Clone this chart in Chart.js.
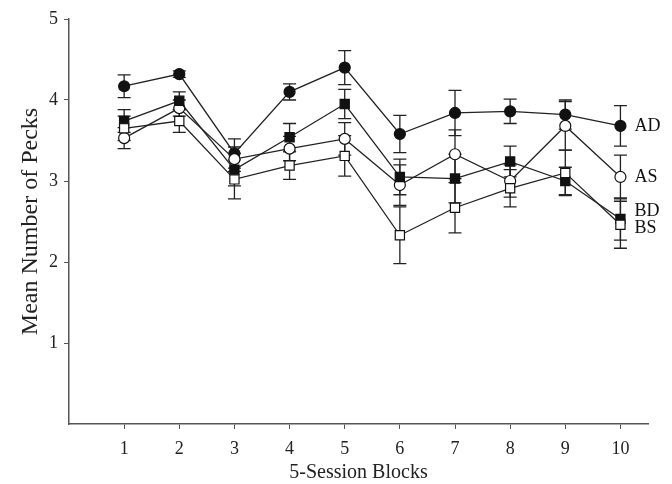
<!DOCTYPE html>
<html>
<head>
<meta charset="utf-8">
<script src="https://cdn.jsdelivr.net/npm/chart.js@4/dist/chart.umd.min.js"></script>
<style>
  html, body { margin: 0; padding: 0; background: #fff; }
  #wrap { width: 672px; height: 484px; }
</style>
</head>
<body>
<div id="wrap"><canvas id="pecks-graph" width="672" height="484"></canvas></div>
<script>
const blocks = [1, 2, 3, 4, 5, 6, 7, 8, 9, 10];
const yTicks = [1, 2, 3, 4, 5];

const adMeans = [4.17, 4.32, 3.34, 4.10, 4.40, 3.58, 3.84, 3.86, 3.82, 3.68];
const asMeans = [3.53, 3.90, 3.27, 3.40, 3.52, 2.95, 3.33, 3.00, 3.68, 3.05];
const bdMeans = [3.74, 3.99, 3.14, 3.54, 3.95, 3.05, 3.03, 3.24, 3.00, 2.53];
const bsMeans = [3.65, 3.74, 3.02, 3.19, 3.31, 2.33, 2.67, 2.91, 3.10, 2.46];

const adErr = [0.14, 0.04, 0.18, 0.10, 0.21, 0.23, 0.28, 0.15, 0.18, 0.25];
const asErr = [0.13, 0.10, 0.15, 0.15, 0.20, 0.25, 0.30, 0.20, 0.30, 0.27];
const bdErr = [0.14, 0.11, 0.20, 0.17, 0.18, 0.22, 0.30, 0.19, 0.17, 0.26];
const bsErr = [0.15, 0.14, 0.24, 0.17, 0.25, 0.35, 0.31, 0.23, 0.28, 0.29];

const seriesNames = ['AD', 'AS', 'BD', 'BS'];

const serif = 'Liberation Serif, DejaVu Serif, serif';
const axisColor = '#555';

function toPoints(means) {
  return blocks.map((b, i) => ({ x: b, y: means[i] }));
}

const errorBars = {
  id: 'errorBars',
  beforeDatasetsDraw(chart) {
    const { ctx, scales: { x, y } } = chart;
    ctx.save();
    ctx.strokeStyle = '#222';
    ctx.lineWidth = 1.3;
    chart.data.datasets.forEach((ds) => {
      ds.data.forEach((p, i) => {
        const e = ds.errors[i];
        const px = x.getPixelForValue(p.x);
        const top = y.getPixelForValue(p.y + e);
        const bot = y.getPixelForValue(p.y - e);
        ctx.beginPath();
        ctx.moveTo(px, top);
        ctx.lineTo(px, bot);
        ctx.moveTo(px - 6.5, top);
        ctx.lineTo(px + 6.5, top);
        ctx.moveTo(px - 6.5, bot);
        ctx.lineTo(px + 6.5, bot);
        ctx.stroke();
      });
    });
    ctx.restore();
  },
};

const endLabels = {
  id: 'endLabels',
  afterDatasetsDraw(chart) {
    const { ctx, scales: { x, y } } = chart;
    const nudge = { AD: 0, AS: 0, BD: -8, BS: 4 };
    ctx.save();
    ctx.fillStyle = '#111';
    ctx.font = '18px ' + serif;
    ctx.textBaseline = 'middle';
    chart.data.datasets.forEach((ds) => {
      const last = ds.data[ds.data.length - 1];
      const px = x.getPixelForValue(last.x) + 14;
      const py = y.getPixelForValue(last.y) + nudge[ds.label];
      ctx.fillText(ds.label, px, py);
    });
    ctx.restore();
  },
};

function makeSet(label, means, errors, style, filled, radius) {
  return {
    label: label,
    data: toPoints(means),
    errors: errors,
    borderColor: '#222',
    borderWidth: 1.3,
    pointStyle: style,
    pointRadius: radius,
    pointHoverRadius: radius,
    pointBorderWidth: 1.2,
    pointBorderColor: '#111',
    pointBackgroundColor: filled ? '#111' : '#fff',
    fill: false,
    tension: 0,
  };
}

const graphCanvas = document.getElementById('pecks-graph');
new Chart(graphCanvas, {
  type: 'line',
  data: {
    datasets: [
      makeSet(seriesNames[3], bsMeans, bsErr, 'rect', false, 6.5),
      makeSet(seriesNames[2], bdMeans, bdErr, 'rect', true, 6.5),
      makeSet(seriesNames[1], asMeans, asErr, 'circle', false, 5.5),
      makeSet(seriesNames[0], adMeans, adErr, 'circle', true, 5.5),
    ],
  },
  options: {
    responsive: false,
    animation: false,
    layout: { padding: { top: 19, right: 24, left: 0, bottom: 0 } },
    plugins: {
      legend: { display: false },
      tooltip: { enabled: false },
    },
    scales: {
      x: {
        type: 'linear',
        min: 0,
        max: 10.5,
        afterBuildTicks: (scale) => {
          scale.ticks = blocks.map((v) => ({ value: v }));
        },
        afterFit: (scale) => {
          scale.height = 60;
        },
        grid: { drawOnChartArea: false, drawTicks: true, tickLength: 5, color: axisColor },
        border: { color: axisColor, width: 1.5 },
        ticks: {
          color: '#222',
          padding: 9,
          font: { family: serif, size: 18 },
        },
        title: {
          display: true,
          text: '5-Session Blocks',
          color: '#222',
          padding: { top: 0, bottom: -1 },
          font: { family: serif, size: 20 },
        },
      },
      y: {
        type: 'linear',
        min: 0,
        max: 5,
        afterBuildTicks: (scale) => {
          scale.ticks = yTicks.map((v) => ({ value: v }));
        },
        afterFit: (scale) => {
          scale.width = 69;
        },
        grid: { drawOnChartArea: false, drawTicks: true, tickLength: 5, color: axisColor },
        border: { color: axisColor, width: 1.5 },
        ticks: {
          color: '#222',
          padding: 6,
          font: { family: serif, size: 18 },
        },
        title: {
          display: true,
          text: 'Mean Number of Pecks',
          color: '#222',
          padding: { top: 16, bottom: 0 },
          font: { family: serif, size: 24 },
        },
      },
    },
  },
  plugins: [errorBars, endLabels],
});
</script>
</body>
</html>
